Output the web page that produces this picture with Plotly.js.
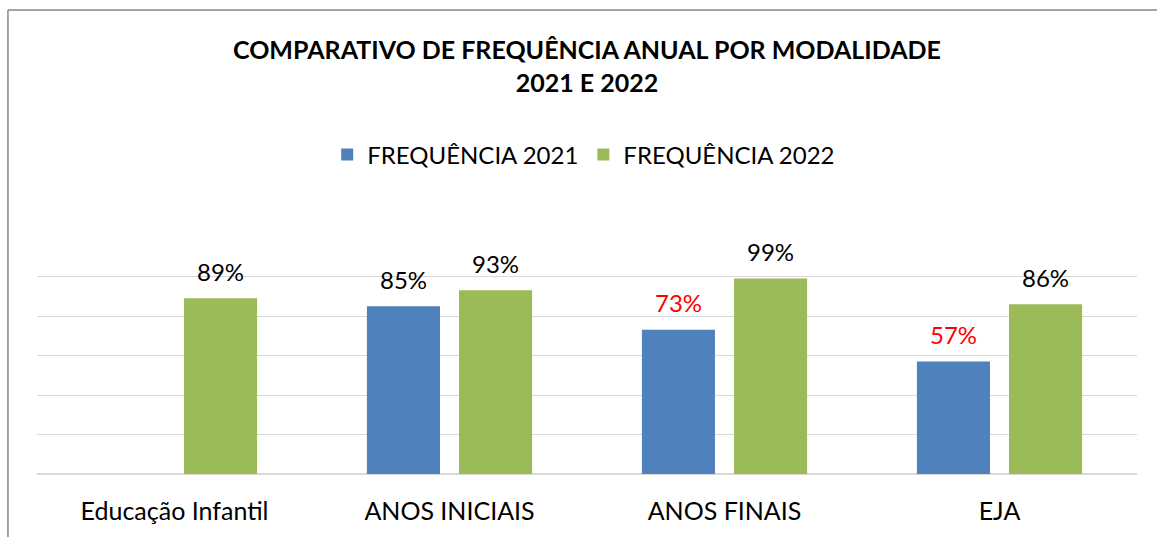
<!DOCTYPE html>
<html>
<head>
<meta charset="utf-8">
<script src="https://cdn.plot.ly/plotly-3.0.1.min.js"></script>
<style>html,body{margin:0;padding:0;background:#fff;}#chart{width:1157px;height:537px;}</style>
</head>
<body>
<div id="chart"></div>
<script>
const categories = ["Educação Infantil", "ANOS INICIAIS", "ANOS FINAIS", "EJA"];
const freq2021 = [null, 85, 73, 57];
const freq2022 = [89, 93, 99, 86];
const seriesNames = ["FREQUÊNCIA 2021", "FREQUÊNCIA 2022"];
const titleText = "<b>COMPARATIVO DE FREQUÊNCIA ANUAL POR MODALIDADE<br>2021 E 2022</b>";

const FONT = "Lato, 'Open Sans', sans-serif";
const BLUE = "#4f81bd", GREEN = "#9bbb59";

const traces = [
  {type: "bar", name: seriesNames[0], x: categories, y: freq2021, marker: {color: BLUE}, hoverinfo: "y"},
  {type: "bar", name: seriesNames[1], x: categories, y: freq2022, marker: {color: GREEN}, hoverinfo: "y"}
];

const annotations = [];
[[freq2021, -46], [freq2022, 46]].forEach(([vals, dx]) => {
  vals.forEach((v, i) => {
    if (v === null) return;
    annotations.push({
      x: categories[i], y: v, xref: "x", yref: "y",
      text: v + "%", showarrow: false, xshift: dx, yshift: 27,
      yanchor: "middle",
      font: {family: FONT, size: 24, color: v < 80 ? "#ff0000" : "#000000"}
    });
  });
});

const layout = {
  width: 1157, height: 537,
  margin: {l: 37, r: 20, t: 237, b: 63},
  paper_bgcolor: "#ffffff", plot_bgcolor: "#ffffff",
  font: {family: FONT, color: "#000"},
  title: {text: titleText, x: 0.5, xanchor: "center", xref: "paper", y: 0.89, yanchor: "top",
          font: {family: FONT, size: 25, color: "#000"}},
  barmode: "group", bargap: 0.33, bargroupgap: 0.207,
  showlegend: true,
  legend: {orientation: "h", x: 0.497, xanchor: "center", y: 1.346, yanchor: "middle",
           font: {family: FONT, size: 24, color: "#000"}, itemwidth: 30, traceorder: "normal"},
  xaxis: {type: "category", showgrid: false, showline: false, ticks: "", ticklabelstandoff: 20,
          tickfont: {family: FONT, size: 25, color: "#000"}, fixedrange: true},
  yaxis: {range: [0, 120], dtick: 20, showgrid: true, gridcolor: "#d9d9d9", gridwidth: 1,
          zeroline: true, zerolinecolor: "#d9d9d9", zerolinewidth: 1.5,
          showticklabels: false, ticks: "", showline: false, fixedrange: true},
  annotations: annotations,
  shapes: [
    {type: "line", xref: "paper", yref: "paper", x0: -0.0264, x1: 1.1, y0: 1.958, y1: 1.958,
     line: {color: "#868686", width: 1.5}},
    {type: "line", xref: "paper", yref: "paper", x0: -0.0264, x1: -0.0264, y0: -0.3, y1: 1.958,
     line: {color: "#868686", width: 1.5}}
  ]
};

Plotly.newPlot("chart", traces, layout, {displayModeBar: false, staticPlot: true});
</script>
</body>
</html>
